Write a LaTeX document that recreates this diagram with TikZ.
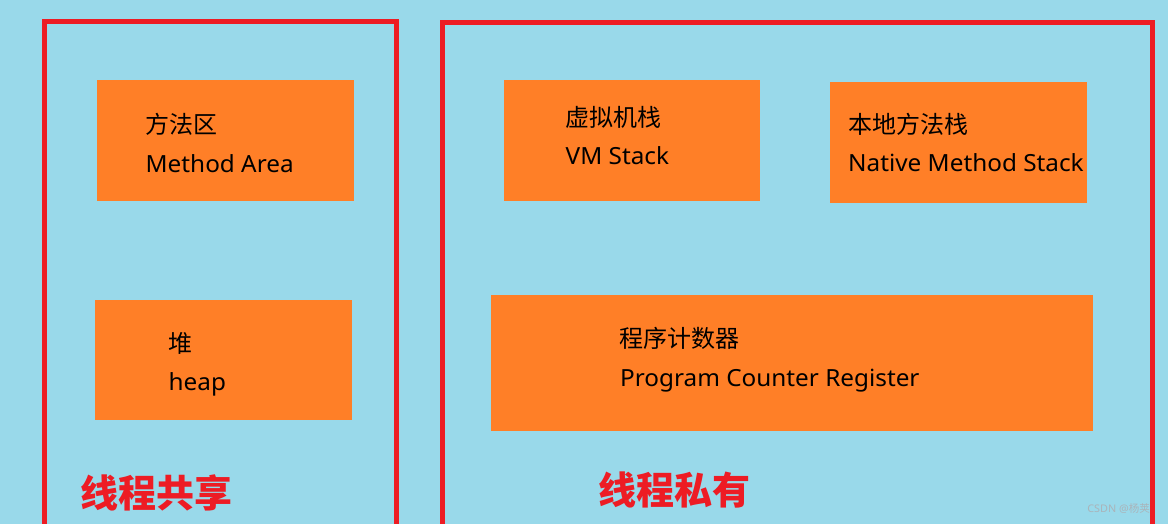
\documentclass[tikz,border=0pt]{standalone}
\usepackage{fontspec}
\setmainfont{Noto Sans}[FakeStretch=1.03]
\newfontfamily\cjk{Noto Sans CJK SC}
\definecolor{bgblue}{RGB}{153,217,234}
\definecolor{boxorange}{RGB}{255,127,39}
\definecolor{framered}{RGB}{237,28,36}
\definecolor{wmgray}{RGB}{170,180,186}
\tikzset{
  frame/.style={draw=framered, line width=5pt},
  obox/.style={fill=boxorange, draw=none, inner sep=0pt},
  zh/.style={anchor=base west, inner sep=0pt, font=\cjk\fontsize{24pt}{28pt}\selectfont, text=black},
  en/.style={anchor=base west, inner sep=0pt, font=\fontsize{23.6pt}{28pt}\selectfont, text=black},
  tag/.style={anchor=base west, inner sep=0pt, font=\cjk\bfseries\fontsize{38pt}{44pt}\selectfont, text=framered},
  wm/.style={anchor=base east, inner sep=0pt, font=\fontsize{10.5pt}{12pt}\selectfont, text=wmgray}
}
\begin{document}
\begin{tikzpicture}[x=1pt,y=-1pt]
\useasboundingbox (0,0) rectangle (1168,524);
\clip (0,0) rectangle (1168,524);
\fill[bgblue] (0,0) rectangle (1168,524);
% frames
\node[frame, minimum width=352pt, minimum height=520pt, inner sep=0pt] (shared) at (220.5,282) {};
\node[frame, minimum width=710pt, minimum height=520pt, inner sep=0pt] (private) at (797,282.5) {};
% boxes
\node[obox, minimum width=257pt, minimum height=121pt] (ma) at (225.5,140.5) {};
\node[obox, minimum width=257pt, minimum height=120pt] (hp) at (223.5,359.5) {};
\node[obox, minimum width=256pt, minimum height=121pt] (vm) at (632,140.5) {};
\node[obox, minimum width=257pt, minimum height=121pt] (nm) at (958.5,142.2) {};
\node[obox, minimum width=602pt, minimum height=136pt] (pc) at (792,363) {};
% texts
\node[zh] (maz) at (145,133.3) {方法区};
\node[en] (mae) at (145.5,172.3) {Method Area};
\node[zh] (hpz) at (168,352.3) {堆};
\node[en] (hpe) at (168.5,390.7) {heap};
\node[zh] (vmz) at (565.5,126.6) {虚拟机栈};
\node[en] (vme) at (565.5,165) {VM Stack};
\node[zh] (nmz) at (848,133.3) {本地方法栈};
\node[en] (nme) at (848,171.7) {Native Method Stack};
\node[zh] (pcz) at (619,347.3) {程序计数器};
\node[en] (pce) at (620,386.7) {Program Counter Register};
\node[tag] (st) at (80,507.3) {线程共享};
\node[tag] (pt) at (598,504) {线程私有};
\node[wm] (wmk) at (1150,512) {CSDN @{\cjk 杨荚}};
\end{tikzpicture}
\end{document}
